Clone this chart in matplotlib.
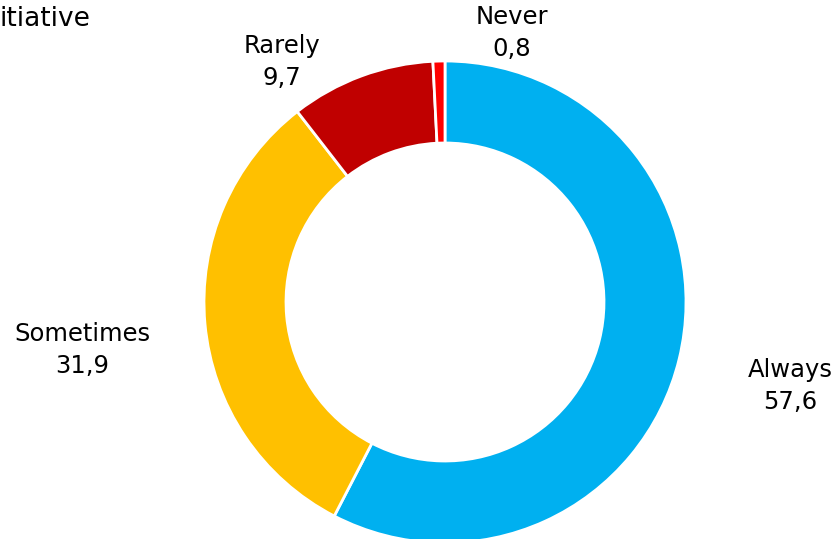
import matplotlib.pyplot as plt

categories = ['Always', 'Sometimes', 'Rarely', 'Never']
values = [57.6, 31.9, 9.7, 0.8]
colors = ['#00B0F0', '#FFC000', '#C00000', '#FF0000']
label_pos = [(790, 386), (82, 350), (282, 62), (512, 33)]

fig = plt.figure(figsize=(8.38, 5.39), dpi=100)
ax = fig.add_axes([0, 0, 1, 1])

# y axis runs downwards, so start at 270 to begin at the top and go clockwise
ax.pie(values, colors=colors, startangle=270, counterclock=True,
       center=(445, 302), radius=241, frame=True,
       wedgeprops=dict(width=82, edgecolor='white', linewidth=2))
ax.set_xlim(0, 838)
ax.set_ylim(539, 0)
ax.set_aspect('equal')
ax.axis('off')

for cat, v, (x, y) in zip(categories, values, label_pos):
    ax.text(x, y, '%s\n%s' % (cat, str(v).replace('.', ',')),
            ha='center', va='center', fontsize=17.5, linespacing=1.45)

ax.text(-1, 19, 'itiative', ha='left', va='center', fontsize=19)

plt.savefig('out.png')
